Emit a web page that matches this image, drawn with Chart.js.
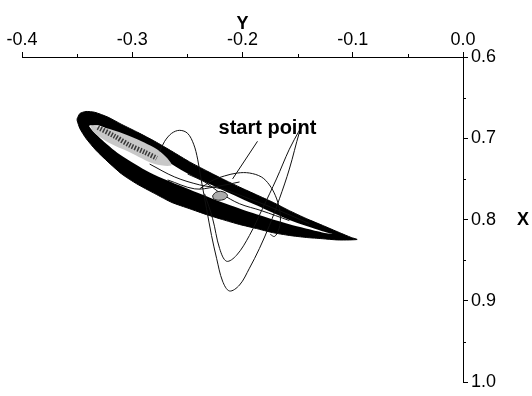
<!DOCTYPE html>
<html>
<head>
<meta charset="utf-8">
<script src="https://cdn.jsdelivr.net/npm/chart.js@4.4.1/dist/chart.umd.min.js"></script>
<style>
  html, body { margin: 0; padding: 0; background: #fff; }
  #wrap { width: 532px; height: 396px; position: relative; }
</style>
</head>
<body>
<div id="wrap"><canvas id="phaseChart"></canvas></div>
<script>
// Phase portrait: Y runs along the top axis, X down the right axis (reversed)

// limit cycle band, outer edge (upper edge left->tip, then lower edge back)
const bandOuterY = [-0.350, -0.3475, -0.342, -0.334, -0.322, -0.3095, -0.295, -0.2796, -0.264, -0.248, -0.2326,
  -0.218, -0.2027, -0.1873, -0.172, -0.1575, -0.142, -0.1276, -0.1122, -0.1014, -0.096,
  -0.1032, -0.114, -0.1276, -0.142, -0.1575, -0.173, -0.1873, -0.2027, -0.218, -0.2326, -0.248,
  -0.264, -0.2796, -0.296, -0.3095, -0.322, -0.333, -0.342, -0.3475, -0.350];
const bandOuterX = [0.676, 0.6695, 0.667, 0.668, 0.674, 0.683, 0.6927, 0.7037, 0.716, 0.729, 0.740,
  0.750, 0.760, 0.7695, 0.779, 0.789, 0.7988, 0.807, 0.8159, 0.822, 0.8244,
  0.825, 0.825, 0.8235, 0.822, 0.8195, 0.8159, 0.811, 0.806, 0.800, 0.7939, 0.7866,
  0.779, 0.768, 0.756, 0.744, 0.729, 0.7146, 0.700, 0.688, 0.678];

// hollow between the two sides of the band
const hollowY = [-0.3394, -0.3294, -0.3113, -0.2842, -0.248, -0.2181, -0.1873, -0.1575, -0.1276, -0.118,
  -0.1276, -0.1575, -0.1873, -0.2181, -0.248, -0.2842, -0.3113, -0.3294, -0.3367];
const hollowX = [0.6845, 0.6845, 0.6965, 0.7155, 0.7445, 0.7635, 0.7825, 0.8005, 0.8142, 0.8178,
  0.8158, 0.8058, 0.7935, 0.779, 0.763, 0.742, 0.720, 0.6995, 0.6895];

// grey haze of the inner turns, left end of the hollow
const hazeY = [-0.3385, -0.3204, -0.2977, -0.2751, -0.2643, -0.2796, -0.3023, -0.3222, -0.3348];
const hazeX = [0.6835, 0.6885, 0.700, 0.7159, 0.7329, 0.7317, 0.7171, 0.7049, 0.6927];

// tightly packed inner turns
const innerTurnsY = [-0.3312, -0.3158, -0.3023, -0.2887, -0.2778];
const innerTurnsX = [0.6866, 0.6976, 0.7085, 0.7171, 0.7244];

// transient swings of the trajectory
const swingOuterY = [-0.2751, -0.2706, -0.2643, -0.257, -0.2498, -0.2443, -0.2407, -0.2371, -0.2326, -0.2281,
  -0.2235, -0.2181, -0.2118, -0.2027, -0.1937, -0.1846, -0.1756, -0.1665, -0.1575, -0.1484, -0.1457];
const swingOuterX = [0.7159, 0.7037, 0.6939, 0.6902, 0.6939, 0.7073, 0.7256, 0.7537, 0.7866, 0.8195,
  0.8476, 0.8756, 0.8878, 0.8805, 0.8598, 0.8354, 0.8073, 0.7744, 0.7378, 0.6927, 0.6841];
const swingInnerY = [-0.2344, -0.2271, -0.2208, -0.2145, -0.2054, -0.1937, -0.1819, -0.1692, -0.1575, -0.1484, -0.1457];
const swingInnerX = [0.7683, 0.7988, 0.8354, 0.8512, 0.8439, 0.8195, 0.7866, 0.750, 0.7134, 0.6902, 0.6841];
const humpY = [-0.2389, -0.2281, -0.2163, -0.2045, -0.1937, -0.1828, -0.1756, -0.1701, -0.1665, -0.1656, -0.1674, -0.171, -0.1747];
const humpX = [0.7622, 0.7524, 0.7463, 0.7427, 0.7427, 0.7476, 0.7573, 0.7707, 0.7866, 0.8012, 0.8134, 0.8207, 0.8183];
const crossAY = [-0.2842, -0.2615, -0.2389, -0.219, -0.1937, -0.1665, -0.1394];
const crossAX = [0.7317, 0.7476, 0.7573, 0.7622, 0.7744, 0.789, 0.8049];
const crossBY = [-0.2679, -0.2434, -0.2253, -0.2027];
const crossBX = [0.7512, 0.7622, 0.7598, 0.7537];
const crossCY = [-0.2498, -0.2344, -0.219, -0.2027, -0.1828, -0.1575];
const crossCX = [0.7439, 0.7537, 0.7683, 0.7805, 0.789, 0.8012];

// fixed point (small grey focus)
const focusY = [-0.2271, -0.2244, -0.2199, -0.2154, -0.2136, -0.2163, -0.2217, -0.2262];
const focusX = [0.7707, 0.7665, 0.7652, 0.7671, 0.7707, 0.775, 0.7762, 0.7744];

// annotation: text position and the point it marks
const startLabel = 'start point';
const startLabelAt = [-0.1774, 0.6878];
const startArrowFrom = [-0.1864, 0.7037];
const startArrowTo = [-0.209, 0.750];

const FONT = 'Arial, "Liberation Sans", Helvetica, sans-serif';

function toPoints(ys, xs, closed) {
  const pts = ys.map((y, i) => ({ x: y, y: xs[i] }));
  if (closed) pts.push({ ...pts[0] });
  return pts;
}

function thinLine(ys, xs) {
  return {
    data: toPoints(ys, xs, false),
    showLine: true, borderColor: '#111', borderWidth: 1, pointRadius: 0,
    tension: 0.35, fill: false, order: 1
  };
}

// minor ticks halfway between the labelled ones
const minorTicks = {
  id: 'minorTicks',
  afterDraw(chart) {
    const ctx = chart.ctx;
    const area = chart.chartArea;
    const sx = chart.scales.x, sy = chart.scales.y;
    ctx.save();
    ctx.strokeStyle = '#000';
    ctx.lineWidth = 1;
    for (let i = 0; i < sx.ticks.length - 1; i++) {
      const v = (sx.ticks[i].value + sx.ticks[i + 1].value) / 2;
      const p = Math.round(sx.getPixelForValue(v)) + 0.5;
      ctx.beginPath(); ctx.moveTo(p, area.top); ctx.lineTo(p, area.top - 3); ctx.stroke();
    }
    for (let i = 0; i < sy.ticks.length - 1; i++) {
      const v = (sy.ticks[i].value + sy.ticks[i + 1].value) / 2;
      const p = Math.round(sy.getPixelForValue(v)) + 0.5;
      ctx.beginPath(); ctx.moveTo(area.right, p); ctx.lineTo(area.right + 3, p); ctx.stroke();
    }
    // upright "X" title beside the right axis
    ctx.fillStyle = '#000';
    ctx.font = 'bold 18px ' + FONT;
    ctx.textAlign = 'center';
    ctx.textBaseline = 'middle';
    ctx.fillText('X', chart.width - 9, (area.top + area.bottom) / 2);
    ctx.restore();
  }
};

// "start point" text with its pointer
const startNote = {
  id: 'startNote',
  afterDatasetsDraw(chart) {
    const ctx = chart.ctx;
    const sx = chart.scales.x, sy = chart.scales.y;
    ctx.save();
    ctx.strokeStyle = '#111';
    ctx.lineWidth = 1;
    ctx.beginPath();
    ctx.moveTo(sx.getPixelForValue(startArrowFrom[0]), sy.getPixelForValue(startArrowFrom[1]));
    ctx.lineTo(sx.getPixelForValue(startArrowTo[0]), sy.getPixelForValue(startArrowTo[1]));
    ctx.stroke();
    ctx.fillStyle = '#000';
    ctx.font = 'bold 20px ' + FONT;
    ctx.textAlign = 'center';
    ctx.textBaseline = 'middle';
    ctx.fillText(startLabel, sx.getPixelForValue(startLabelAt[0]), sy.getPixelForValue(startLabelAt[1]));
    ctx.restore();
  }
};

const ctx = document.getElementById('phaseChart').getContext('2d');
const chart = new Chart(ctx, {
  type: 'scatter',
  data: {
    datasets: [
      {
        // focus drawn last, on top
        data: toPoints(focusY, focusX, true),
        showLine: true, borderColor: '#222', borderWidth: 1, pointRadius: 0,
        backgroundColor: '#ababab', fill: 'shape', tension: 0.3, order: 0
      },
      thinLine(swingOuterY, swingOuterX),
      thinLine(swingInnerY, swingInnerX),
      thinLine(humpY, humpX),
      thinLine(crossAY, crossAX),
      thinLine(crossBY, crossBX),
      thinLine(crossCY, crossCX),
      {
        data: toPoints(innerTurnsY, innerTurnsX, false),
        showLine: true, borderColor: '#3a3a3a', borderWidth: 5, borderDash: [1.5, 1.5],
        pointRadius: 0, tension: 0.3, fill: false, order: 2
      },
      {
        data: toPoints(hazeY, hazeX, true),
        showLine: true, borderColor: 'rgba(0,0,0,0)', borderWidth: 0, pointRadius: 0,
        backgroundColor: '#c8c8c8', fill: 'shape', tension: 0.3, order: 3
      },
      {
        data: toPoints(hollowY, hollowX, true),
        showLine: true, borderColor: 'rgba(0,0,0,0)', borderWidth: 0, pointRadius: 0,
        backgroundColor: '#ffffff', fill: 'shape', tension: 0.25, order: 4
      },
      {
        data: toPoints(bandOuterY, bandOuterX, true),
        showLine: true, borderColor: '#000', borderWidth: 1, pointRadius: 0,
        backgroundColor: '#000', fill: 'shape', tension: 0.2, order: 5
      }
    ]
  },
  options: {
    responsive: true,
    maintainAspectRatio: false,
    animation: false,
    layout: { padding: { left: 22, right: 0, top: 0, bottom: 12 } },
    plugins: {
      legend: { display: false },
      tooltip: { enabled: false }
    },
    scales: {
      x: {
        type: 'linear',
        position: 'top',
        min: -0.4,
        max: 0.0,
        ticks: {
          stepSize: 0.1, autoSkip: false, maxRotation: 0, padding: 1,
          color: '#000', font: { family: FONT, size: 18 },
          callback: v => v.toFixed(1)
        },
        grid: { drawOnChartArea: false, tickLength: 5, tickColor: '#000', tickWidth: 1 },
        border: { color: '#000', width: 1 },
        title: {
          display: true, text: 'Y', color: '#000',
          font: { family: FONT, size: 18, weight: 'bold' },
          padding: { top: 13, bottom: 0 }
        },
        afterFit(scale) { scale.height = 57; }
      },
      y: {
        type: 'linear',
        position: 'right',
        reverse: true,
        min: 0.6,
        max: 1.0,
        ticks: {
          stepSize: 0.1, autoSkip: false, padding: 3,
          color: '#000', font: { family: FONT, size: 18 },
          callback: v => v.toFixed(1)
        },
        grid: { drawOnChartArea: false, tickLength: 5, tickColor: '#000', tickWidth: 1 },
        border: { color: '#000', width: 1 },
        afterFit(scale) { scale.width = 69; }
      }
    }
  },
  plugins: [minorTicks, startNote]
});
</script>
</body>
</html>
